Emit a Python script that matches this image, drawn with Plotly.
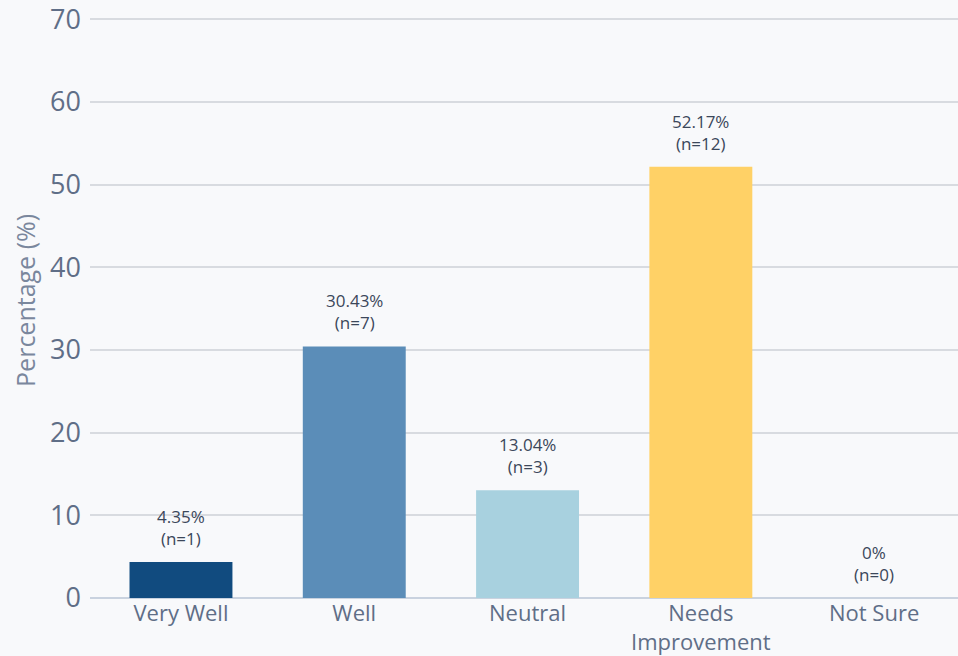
import plotly.graph_objects as go

categories = ["Very Well", "Well", "Neutral", "Needs<br>Improvement", "Not Sure"]
percentages = [4.35, 30.43, 13.04, 52.17, 0]
counts = [1, 7, 3, 12, 0]
pct_labels = ["4.35%", "30.43%", "13.04%", "52.17%", "0%"]
bar_colors = ["#114b7f", "#5b8db8", "#a8d1df", "#ffd166", "#d0d0d0"]
y_ticks = [0, 10, 20, 30, 40, 50, 60, 70]

FONT = "Open Sans"

fig = go.Figure()
fig.add_trace(go.Bar(
    x=list(range(len(categories))),
    y=percentages,
    marker=dict(color=bar_colors, line=dict(width=0)),
    width=0.594,
    hoverinfo="skip",
))

for i, (p, n, lab) in enumerate(zip(percentages, counts, pct_labels)):
    fig.add_annotation(
        x=i, y=p, text=f"{lab}<br>(n={n})", showarrow=False,
        yanchor="bottom", yshift=10,
        font=dict(family=FONT, size=17, color="#3b475a"),
    )

fig.add_annotation(
    xref="paper", yref="paper", x=-0.075, y=0.512,
    text="Percentage (%)", textangle=-90, showarrow=False,
    xanchor="center", yanchor="middle",
    font=dict(family=FONT, size=25, color="#7a879d"),
)

fig.update_layout(
    width=958, height=656,
    margin=dict(l=90, r=0, t=16, b=58, autoexpand=False),
    paper_bgcolor="#f8f9fb",
    plot_bgcolor="#f8f9fb",
    showlegend=False,
    font=dict(family=FONT, color="#5f6e87"),
    xaxis=dict(
        tickmode="array",
        tickvals=list(range(len(categories))),
        ticktext=categories,
        range=[-0.525, 4.484],
        showgrid=False,
        showline=False,
        zeroline=False,
        ticks="",
        automargin=False,
        tickfont=dict(family=FONT, size=22, color="#5f6e87"),
    ),
    yaxis=dict(
        range=[0, 70.4],
        tickvals=y_ticks,
        showgrid=True,
        gridcolor="#d8dbe0",
        gridwidth=1.5,
        zeroline=True,
        zerolinecolor="#c9d2df",
        zerolinewidth=2,
        showline=False,
        ticks="",
        automargin=False,
        ticklabelstandoff=8,
        ticklabeloverflow="allow",
        tickfont=dict(family=FONT, size=27, color="#5f6e87"),
    ),
)

fig.write_html(
    "out.html",
    config={"displayModeBar": False},
    post_script="document.body.style.margin='0px';document.body.style.background='#f8f9fb';",
)
